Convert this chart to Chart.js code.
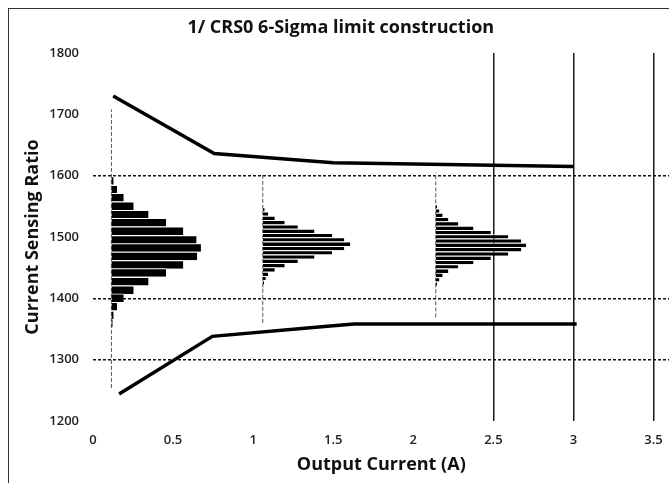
<!DOCTYPE html>
<html>
<head>
<meta charset="utf-8">
<script src="https://cdn.jsdelivr.net/npm/chart.js@4.4.1/dist/chart.umd.min.js"></script>
<style>
  html, body { margin: 0; padding: 0; background: #fff; overflow: hidden; }
  #frame {
    position: absolute; left: 8px; top: 8px; width: 680px; height: 490px;
    border-left: 1px solid #333; border-top: 1px solid #333;
  }
  #wrap { position: absolute; left: 0; top: 0; width: 665px; height: 474px; }
</style>
</head>
<body>
<div id="frame"><div id="wrap"><canvas id="chart"></canvas></div></div>
<script>
// 6-sigma limit lines
const upperX = [0.126, 0.757, 1.5, 3];
const upperY = [1730, 1636, 1621, 1615];
const lowerX = [0.163, 0.745, 1.445, 1.63, 3.02];
const lowerY = [1244, 1338, 1354, 1358, 1358];

// histograms: where each one sits on the x axis and the span of its dashed base line
const histBase = [0.115, 1.06, 2.14];
const baseLow = [1254, 1360, 1369];
const baseHigh = [1708, 1605, 1605];

// bin centres (ratio) and bar lengths (in A units of the x axis)
const hist1Bins = [1592, 1578, 1565, 1551, 1537, 1524, 1510, 1496, 1483, 1469, 1455, 1442, 1428, 1414, 1401, 1387, 1373, 1360];
const hist1Len = [0.014, 0.035, 0.077, 0.139, 0.232, 0.342, 0.449, 0.532, 0.559, 0.536, 0.449, 0.342, 0.232, 0.139, 0.077, 0.035, 0.014, 0.008];
const hist2Bins = [1545, 1538, 1531, 1524, 1517, 1510, 1503, 1496, 1489, 1482, 1475, 1468, 1461, 1454, 1447, 1440, 1433, 1426, 1419];
const hist2Len = [0.012, 0.033, 0.075, 0.137, 0.219, 0.323, 0.433, 0.509, 0.547, 0.509, 0.433, 0.323, 0.219, 0.137, 0.075, 0.033, 0.019, 0.008, 0.004];
const hist3Bins = [1550, 1543, 1536, 1529, 1522, 1515, 1508, 1501, 1494, 1487, 1480, 1473, 1466, 1459, 1452, 1445, 1438, 1431, 1424, 1417];
const hist3Len = [0.008, 0.023, 0.043, 0.079, 0.141, 0.236, 0.344, 0.453, 0.534, 0.565, 0.534, 0.453, 0.344, 0.236, 0.141, 0.079, 0.043, 0.023, 0.008, 0.002];

// axis ticks and reference lines
const xTicks = [0, 0.5, 1, 1.5, 2, 2.5, 3, 3.5];
const yTicks = [1200, 1300, 1400, 1500, 1600, 1700, 1800];
const xRefLines = [2.5, 3, 3.5];
const yRefLines = [1300, 1400, 1600];

const toPoints = (xs, ys) => xs.map((x, i) => ({ x: x, y: ys[i] }));

const histDataset = (bins, lens, base, thickness) => ({
  type: 'bar',
  indexAxis: 'y',
  grouped: false,
  order: 0,
  data: bins.map((b, i) => ({ y: b, x: [base, base + lens[i]] })),
  backgroundColor: '#000',
  borderColor: '#fff',
  borderWidth: { top: 1, right: 0, bottom: 0, left: 0 },
  borderSkipped: false,
  barThickness: thickness,
  inflateAmount: 0
});

const baseDataset = (i) => ({
  type: 'line',
  order: 2,
  data: [{ x: histBase[i], y: baseLow[i] }, { x: histBase[i], y: baseHigh[i] }],
  borderColor: '#555',
  borderWidth: 1,
  borderDash: [4, 2],
  pointRadius: 0
});

const limitDataset = (pts) => ({
  type: 'line',
  order: 1,
  data: pts,
  borderColor: '#000',
  borderWidth: 3.5,
  pointRadius: 0,
  tension: 0
});

const tickFont = { family: "'Open Sans', sans-serif", size: 13, weight: '600' };
const titleFont = { family: "'Open Sans', sans-serif", size: 18, weight: 'bold' };

new Chart(document.getElementById('chart'), {
  type: 'line',
  data: {
    datasets: [
      histDataset(hist1Bins, hist1Len, histBase[0], 8.5),
      histDataset(hist2Bins, hist2Len, histBase[1], 4.33),
      histDataset(hist3Bins, hist3Len, histBase[2], 4.33),
      limitDataset(toPoints(upperX, upperY)),
      limitDataset(toPoints(lowerX, lowerY)),
      baseDataset(0),
      baseDataset(1),
      baseDataset(2)
    ]
  },
  options: {
    responsive: true,
    maintainAspectRatio: false,
    animation: false,
    layout: { padding: { left: 0, right: 1.4, top: 0, bottom: 0 } },
    plugins: {
      legend: { display: false },
      tooltip: { enabled: false },
      title: {
        display: true,
        text: '1/ CRS0 6-Sigma limit construction',
        color: '#111',
        font: { family: "'Open Sans', sans-serif", size: 18, weight: 'bold' },
        padding: { top: 8, bottom: 14.4 }
      }
    },
    scales: {
      x: {
        type: 'linear',
        min: 0,
        max: 3.6,
        offset: false,
        afterBuildTicks: (scale) => { scale.ticks = xTicks.map(v => ({ value: v })); },
        afterFit: (scale) => { scale.height = 62; },
        ticks: {
          padding: 11.2,
          color: '#222',
          font: tickFont,
          maxRotation: 0,
          callback: (v) => String(v)
        },
        grid: {
          offset: false,
          drawTicks: false,
          lineWidth: 1.5,
          color: (ctx) => (ctx.tick && xRefLines.includes(ctx.tick.value)) ? '#1a1a1a' : 'rgba(0,0,0,0)'
        },
        border: { display: false },
        title: {
          display: true,
          text: 'Output Current (A)',
          color: '#111',
          font: titleFont,
          padding: { top: 0, bottom: 7.2 }
        }
      },
      y: {
        type: 'linear',
        min: 1200,
        max: 1800,
        offset: false,
        afterBuildTicks: (scale) => { scale.ticks = yTicks.map(v => ({ value: v })); },
        afterFit: (scale) => { scale.width = 84; },
        ticks: {
          padding: 14,
          color: '#222',
          font: tickFont,
          callback: (v) => String(v)
        },
        grid: {
          offset: false,
          drawTicks: false,
          lineWidth: 1.5,
          color: (ctx) => (ctx.tick && yRefLines.includes(ctx.tick.value)) ? '#111' : 'rgba(0,0,0,0)'
        },
        border: { display: false, dash: [3, 2] },
        title: {
          display: true,
          text: 'Current Sensing Ratio',
          color: '#111',
          font: titleFont,
          padding: { top: 13.2, bottom: 4 }
        }
      }
    }
  }
});
</script>
</body>
</html>
